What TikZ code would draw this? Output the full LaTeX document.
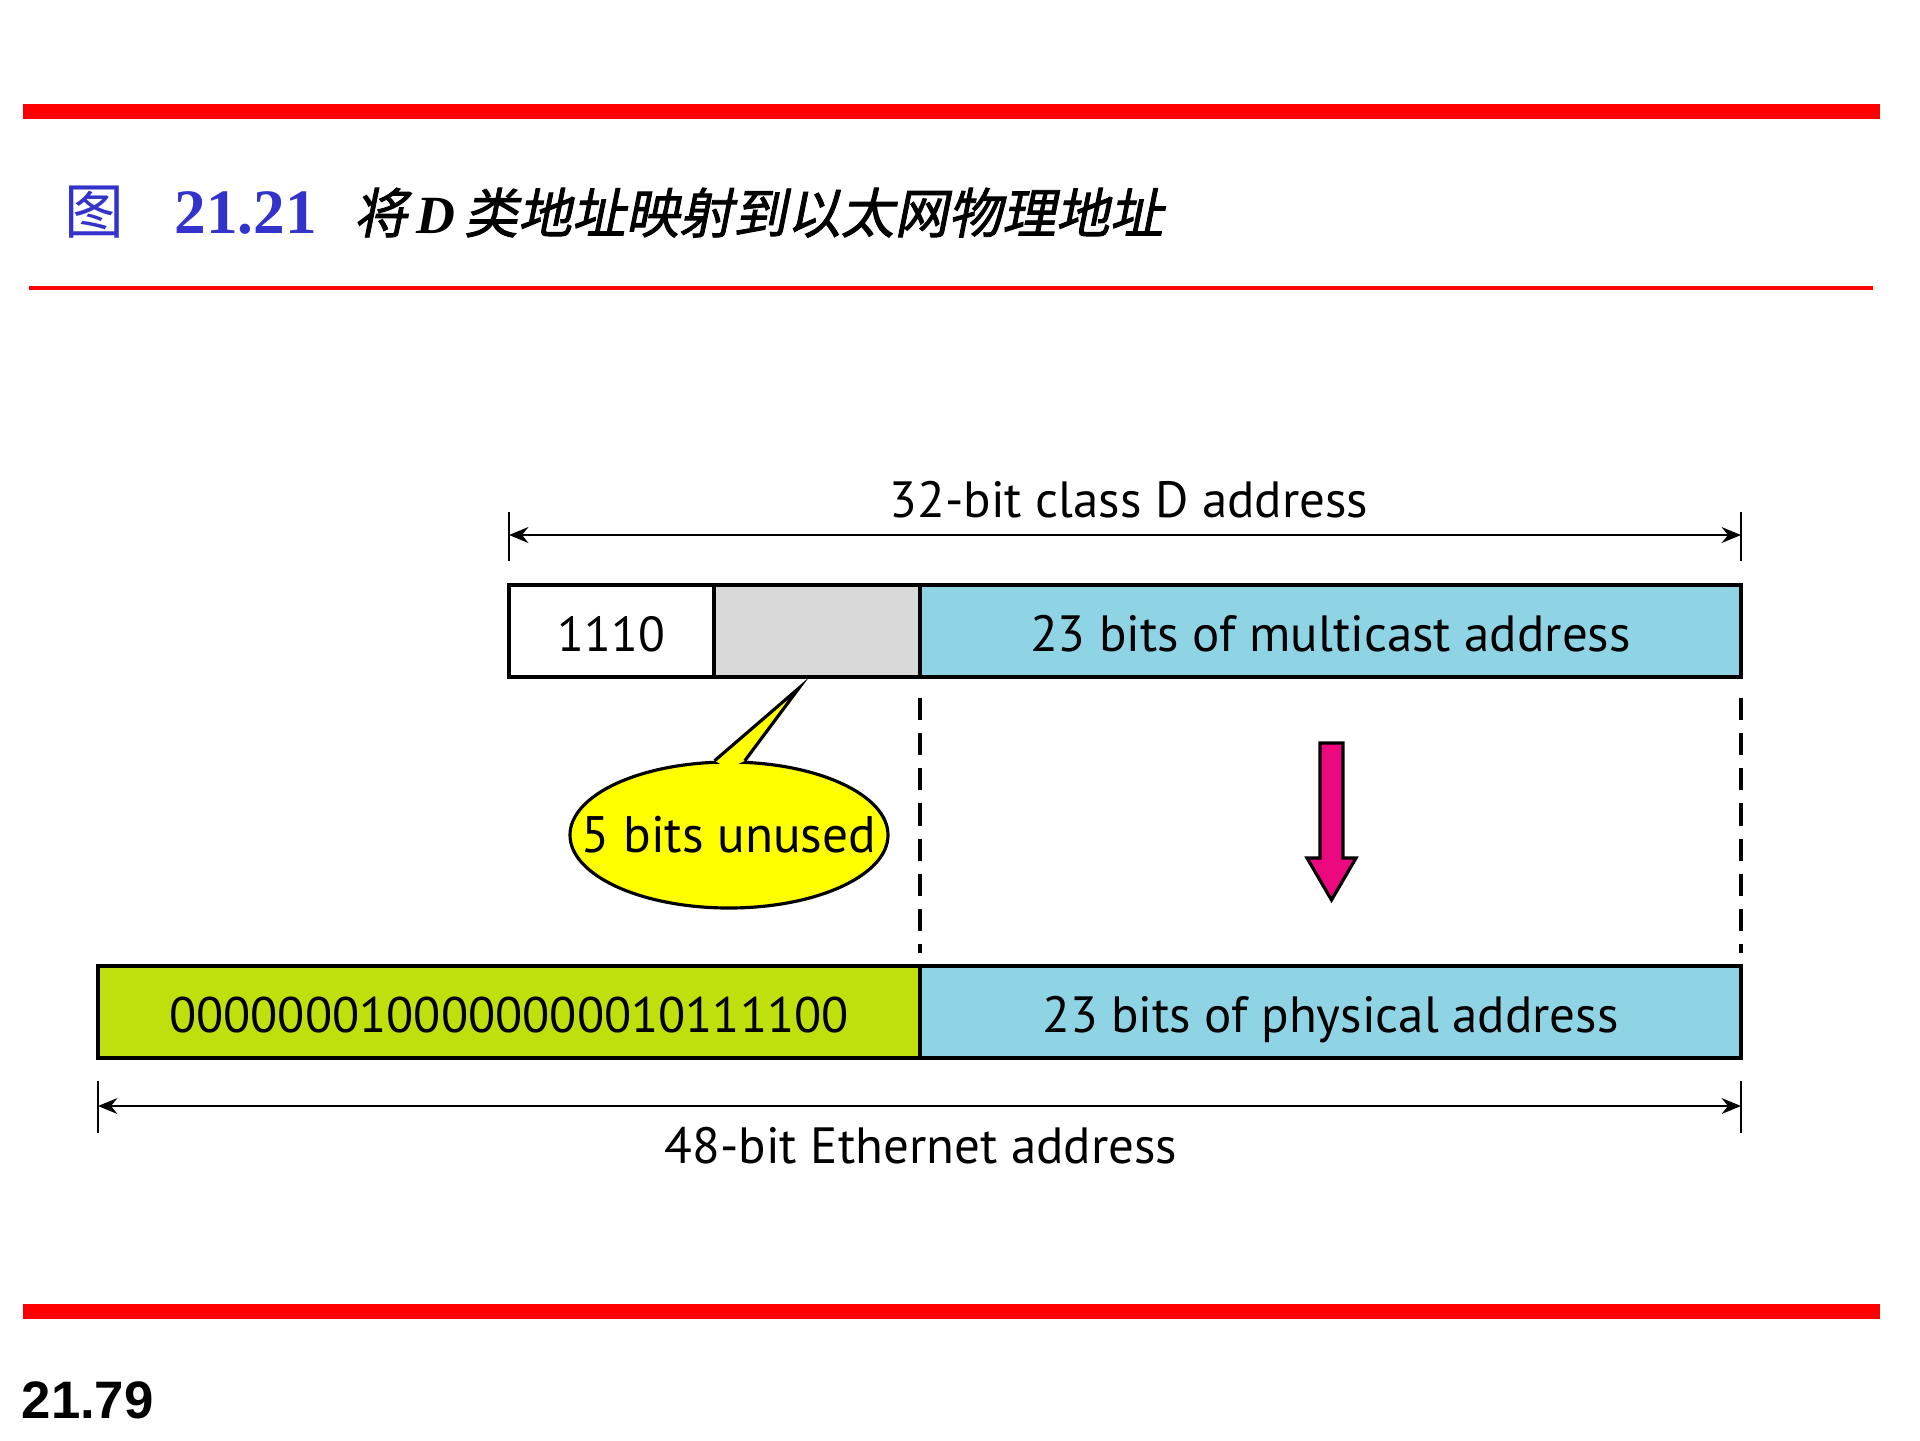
\documentclass[tikz,border=0pt]{standalone}
\usepackage{fontspec}
\usepackage{tikz}
\usetikzlibrary{arrows.meta,shapes.geometric,calc}

\setmainfont{PT Sans}
\newfontfamily\cjkfont{Noto Sans CJK SC}
\newfontfamily\cjkslant[FakeSlant=0.2,FakeBold=1.6]{Noto Sans CJK SC}
\newfontfamily\titleserif{Liberation Serif}
\newfontfamily\pagefont{Liberation Sans}

\definecolor{barred}{RGB}{255,0,0}
\definecolor{titleblue}{RGB}{51,51,204}
\definecolor{fieldblue}{RGB}{143,212,228}
\definecolor{fieldgrey}{RGB}{217,217,217}
\definecolor{fieldgreen}{RGB}{192,224,14}
\definecolor{bubbleyellow}{RGB}{255,255,0}
\definecolor{arrowpink}{RGB}{236,8,127}

\begin{document}
\begin{tikzpicture}[
		field_style/.style={rectangle,draw=black,line width=0.9pt,minimum height=0.92cm,inner sep=0pt,
			text height=0.40cm,text depth=0pt,font=\fontsize{14.5}{18}\selectfont},
		dim_style/.style={draw=black,line width=0.7pt,{Stealth[length=5.5pt,width=4.5pt]}-{Stealth[length=5.5pt,width=4.5pt]}},
		tick_style/.style={draw=black,line width=0.7pt},
		cut_style/.style={draw=black,line width=0.9pt,dash pattern=on 6.3pt off 3.7pt},
		dimlabel_style/.style={font=\fontsize{14.5}{17}\selectfont,inner sep=0pt}]

		\useasboundingbox (0,0) rectangle (19.2,-14.4);

		% slide frame
		\fill[barred] (0.23,-1.04) rectangle (18.80,-1.19);
		\draw[barred,line width=1pt] (0.29,-2.88) -- (18.73,-2.88);
		\fill[barred] (0.23,-13.04) rectangle (18.80,-13.19);

		\node[anchor=base west,inner sep=0pt,text=titleblue,font=\cjkfont\fontsize{17}{20}\selectfont] (fig) at (0.64,-2.33) {图};
		\node[anchor=base west,inner sep=0pt,text=titleblue,font=\titleserif\bfseries\fontsize{18}{20}\selectfont] (fignum) at (1.74,-2.33) {21.21};
		\node[anchor=base west,inner sep=0pt,font=\fontsize{15.3}{20}\selectfont] (figtitle) at (3.53,-2.33)
			{\cjkslant 将\,{\titleserif\bfseries\itshape D}\,类地址映射到以太网物理地址};
		\node[anchor=base west,inner sep=0pt,font=\pagefont\bfseries\fontsize{15}{18}\selectfont] (page) at (0.21,-14.18) {21.79};

		% class D address
		\node[field_style,fill=white,minimum width=2.05cm,font=\fontsize{14}{18}\selectfont] (prefix) at (6.115,-6.31) {1110};
		\node[field_style,fill=fieldgrey,minimum width=2.06cm] (unusedbits) at (8.17,-6.31) {};
		\node[field_style,fill=fieldblue,minimum width=8.21cm] (multicast) at (13.305,-6.31) {23 bits of multicast address};

		% ethernet address
		\node[field_style,fill=fieldgreen,minimum width=8.22cm,font=\fontsize{14.2}{18}\selectfont] (macprefix) at (5.09,-10.12) {0000000100000000010111100};
		\node[field_style,fill=fieldblue,minimum width=8.21cm] (physical) at (13.305,-10.12) {23 bits of physical address};

		% dimension lines
		\coordinate (d_top_l) at (5.09,-5.35);
		\coordinate (d_top_r) at (17.41,-5.35);
		\coordinate (d_bot_l) at (0.98,-11.06);
		\coordinate (d_bot_r) at (17.41,-11.06);
		\draw[tick_style] (d_top_l) ++(0,0.23) -- ++(0,-0.49);
		\draw[tick_style] (d_top_r) ++(0,0.23) -- ++(0,-0.49);
		\draw[tick_style] (d_bot_l) ++(0,0.25) -- ++(0,-0.52);
		\draw[tick_style] (d_bot_r) ++(0,0.25) -- ++(0,-0.52);
		\draw[dim_style] (d_top_l) -- (d_top_r);
		\draw[dim_style] (d_bot_l) -- (d_bot_r);
		\node[dimlabel_style] (classd) at (11.29,-5.0) {32-bit class D address};
		\node[dimlabel_style] (ether) at (9.21,-11.46) {48-bit Ethernet address};

		% dashed guides
		\coordinate (cut_a1) at (9.20,-6.98);
		\coordinate (cut_a2) at (9.20,-9.53);
		\coordinate (cut_b1) at (17.41,-6.98);
		\coordinate (cut_b2) at (17.41,-9.53);
		\draw[cut_style] (cut_a1) -- (cut_a2);
		\draw[cut_style] (cut_b1) -- (cut_b2);

		% mapping arrow
		\filldraw[fill=arrowpink,draw=black,line width=0.9pt,line join=miter]
			(13.20,-7.43) -- (13.43,-7.43) -- (13.43,-8.58) -- (13.56,-8.58) -- (13.315,-9.00)
			-- (13.07,-8.58) -- (13.20,-8.58) -- cycle;

		% callout
		\node[ellipse,draw=black,fill=bubbleyellow,line width=0.9pt,minimum width=3.18cm,minimum height=1.46cm,inner sep=0pt,
			font=\fontsize{14.6}{18}\selectfont] (unused) at (7.29,-8.35) {\makebox[0pt]{5 bits unused}};
		\coordinate (tip) at (7.99,-6.88);
		\fill[bubbleyellow] (unused.101) -- (tip) -- (unused.78) -- ($(unused.90)+(0,-0.08)$) -- cycle;
		\draw[black,line width=0.9pt,line join=miter] (unused.101) -- (tip) -- (unused.78);

\end{tikzpicture}
\end{document}
